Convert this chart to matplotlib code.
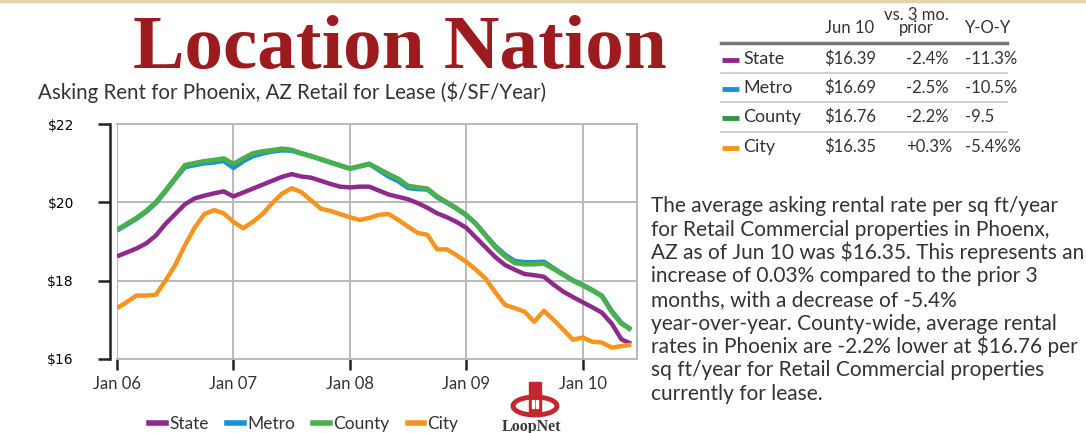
import matplotlib
matplotlib.use("Agg")
import matplotlib.pyplot as plt
from matplotlib.lines import Line2D
from matplotlib.patches import Ellipse, Rectangle
import numpy as np

# ── data: monthly asking rent, Jan 06 .. Jun 10 ─────────────────────────────
months = np.arange(54)  # 0 = Jan 06

state = [18.62, 18.72, 18.82, 18.95, 19.15, 19.45, 19.70, 19.95, 20.10, 20.17,
         20.23, 20.28, 20.15, 20.25, 20.35, 20.45, 20.55, 20.65, 20.72, 20.66,
         20.63, 20.55, 20.47, 20.40, 20.38, 20.40, 20.40, 20.30, 20.20, 20.14,
         20.08, 19.98, 19.86, 19.72, 19.62, 19.50, 19.35, 19.10, 18.85, 18.60,
         18.40, 18.28, 18.17, 18.14, 18.10, 17.90, 17.72, 17.58, 17.45, 17.32,
         17.18, 16.90, 16.50, 16.39]

metro = [19.28, 19.43, 19.58, 19.76, 19.98, 20.28, 20.60, 20.90, 20.95, 21.00,
         21.02, 21.06, 20.88, 21.05, 21.18, 21.25, 21.30, 21.33, 21.32, 21.25,
         21.18, 21.10, 21.02, 20.94, 20.86, 20.92, 20.98, 20.82, 20.66, 20.54,
         20.37, 20.34, 20.33, 20.13, 19.99, 19.84, 19.67, 19.45, 19.16, 18.88,
         18.66, 18.50, 18.47, 18.47, 18.48, 18.32, 18.16, 18.01, 17.89, 17.76,
         17.61, 17.22, 16.92, 16.74]

county = [19.30, 19.45, 19.60, 19.78, 20.00, 20.30, 20.62, 20.95, 21.00, 21.05,
          21.08, 21.12, 20.98, 21.12, 21.25, 21.30, 21.33, 21.37, 21.34, 21.25,
          21.18, 21.10, 21.02, 20.94, 20.86, 20.92, 20.98, 20.85, 20.72, 20.60,
          20.42, 20.38, 20.35, 20.15, 20.00, 19.85, 19.68, 19.45, 19.15, 18.85,
          18.62, 18.45, 18.42, 18.42, 18.44, 18.30, 18.15, 18.00, 17.88, 17.75,
          17.60, 17.20, 16.90, 16.76]

city = [17.30, 17.45, 17.62, 17.62, 17.64, 18.00, 18.40, 18.90, 19.35, 19.70,
        19.80, 19.72, 19.50, 19.34, 19.50, 19.70, 19.98, 20.22, 20.36, 20.26,
        20.05, 19.84, 19.78, 19.70, 19.62, 19.55, 19.60, 19.68, 19.70, 19.55,
        19.38, 19.22, 19.17, 18.80, 18.80, 18.65, 18.48, 18.28, 18.05, 17.70,
        17.38, 17.30, 17.21, 16.95, 17.23, 17.00, 16.75, 16.49, 16.55, 16.44,
        16.42, 16.29, 16.33, 16.37]

series_names = ["State", "Metro", "County", "City"]
series_colors = ["#8e2a8e", "#1b8fd8", "#4cb04a", "#f7941e"]
swatch_colors = ["#8e2a8e", "#1b8fd8", "#2e9640", "#f7941e"]

x_ticks = [0, 12, 24, 36, 48]
x_labels = ["Jan 06", "Jan 07", "Jan 08", "Jan 09", "Jan 10"]
y_ticks = [16, 18, 20, 22]
y_labels = ["$16", "$18", "$20", "$22"]

# summary table
tbl_header = ["Jun 10", "vs. 3 mo.\nprior", "Y-O-Y"]
tbl_current = ["$16.39", "$16.69", "$16.76", "$16.35"]
tbl_3mo = ["-2.4%", "-2.5%", "-2.2%", "+0.3%"]
tbl_yoy = ["-11.3%", "-10.5%", "-9.5", "-5.4%%"]

paragraph = [
    "The average asking rental rate per sq ft/year",
    "for Retail Commercial properties in Phoenx,",
    "AZ as of Jun 10 was $16.35. This represents an",
    "increase of 0.03% compared to the prior 3",
    "months, with a decrease of -5.4%",
    "year-over-year. County-wide, average rental",
    "rates in Phoenix are -2.2% lower at $16.76 per",
    "sq ft/year for Retail Commercial properties",
    "currently for lease.",
]

FONT = "Lato"
TXT = "#333333"
W, H = 1086, 433


def fx(px):
    return px / W


def fy(py):
    return 1 - py / H


fig = plt.figure(figsize=(W / 100, H / 100), dpi=100)
fig.patch.set_facecolor("white")

# thin beige rule along the top
fig.add_artist(Line2D([0, 1], [fy(1), fy(1)], color="#e3d3aa", lw=2.5))

fig.text(fx(400), fy(68), "Location Nation", fontsize=55.5, color="#9b1b1f",
         family="Liberation Serif", fontweight="bold", ha="center", va="baseline")
fig.text(fx(38), fy(99), "Asking Rent for Phoenix, AZ Retail for Lease ($/SF/Year)",
         fontsize=14.8, color=TXT, family=FONT, ha="left", va="baseline")

# ── chart ───────────────────────────────────────────────────────────────────
ax = fig.add_axes([fx(117), fy(359), fx(637) - fx(117), fy(124) - fy(359)])
ax.plot(months, metro, color=series_colors[1], lw=3.4, solid_capstyle="butt", zorder=3)
ax.plot(months, county, color=series_colors[2], lw=3.4, solid_capstyle="butt", zorder=4)
ax.plot(months, state, color=series_colors[0], lw=3.2, solid_capstyle="butt", zorder=3)
ax.plot(months, city, color=series_colors[3], lw=3.2, solid_capstyle="butt", zorder=3)

ax.set_xlim(0, 53.6)
ax.set_ylim(16, 22)
ax.set_xticks(x_ticks)
ax.set_xticklabels(x_labels, family=FONT, fontsize=12, color=TXT)
ax.set_yticks(y_ticks)
ax.set_yticklabels(y_labels, family=FONT, fontsize=11.5, color=TXT, va="bottom")
ax.grid(True, color="#b9b9b9", lw=1.4)
ax.set_axisbelow(True)
for s in ["top", "right", "bottom"]:
    ax.spines[s].set_color("#b9b9b9")
    ax.spines[s].set_linewidth(1.4)
ax.spines["left"].set_position(("outward", 5))
ax.spines["left"].set_color("#222222")
ax.spines["left"].set_linewidth(1.8)
ax.tick_params(axis="y", length=9, width=1.8, color="#222222", pad=17)
ax.tick_params(axis="x", length=8, width=1.8, color="#222222", pad=4)

# legend under the chart
handles = [Line2D([], [], color=c, lw=4) for c in series_colors]
fig.legend(handles, series_names, loc="center", bbox_to_anchor=(fx(304), fy(424)),
           ncol=4, frameon=False, handlelength=0.95, handletextpad=0.2,
           columnspacing=1.05, prop={"family": FONT, "size": 12.5},
           labelcolor=TXT)

# LoopNet mark: red ring with a small tower, word below
lax = fig.add_axes([fx(505), fy(420), fx(60), 40 / H])
lax.set_xlim(0, 60)
lax.set_ylim(0, 40)
lax.axis("off")
lax.add_patch(Rectangle((24, 8), 12, 30, color="#c4262e"))
lax.add_patch(Rectangle((27, 12), 2, 8, color="white"))
lax.add_patch(Rectangle((31, 12), 2, 8, color="white"))
lax.add_patch(Ellipse((30, 14), 44, 18, fill=False, ec="#c4262e", lw=3.5))
fig.text(fx(531), fy(431), "LoopNet", fontsize=11.5, family="Liberation Serif",
         fontweight="bold", color="#3a3a3a", ha="center", va="baseline")

# ── summary table ───────────────────────────────────────────────────────────
fig.text(fx(825), fy(33), tbl_header[0], fontsize=12, family=FONT, color=TXT,
         ha="left", va="baseline")
fig.text(fx(916), fy(33), tbl_header[1], fontsize=12, family=FONT, color=TXT,
         ha="center", va="baseline", linespacing=0.8)
fig.text(fx(965), fy(33), tbl_header[2], fontsize=12, family=FONT, color=TXT,
         ha="left", va="baseline")
fig.add_artist(Line2D([fx(721), fx(1007)], [fy(43), fy(43)], color="#777777", lw=2.5))

row_base = [64, 93, 122, 152]
for i, name in enumerate(series_names):
    yb = row_base[i]
    fig.add_artist(Line2D([fx(722), fx(739)], [fy(yb - 4.5), fy(yb - 4.5)],
                          color=swatch_colors[i], lw=3.5, solid_capstyle="butt"))
    fig.text(fx(743), fy(yb), name, fontsize=13, family=FONT, color=TXT,
             ha="left", va="baseline")
    fig.text(fx(824), fy(yb), tbl_current[i], fontsize=12, family=FONT, color=TXT,
             ha="left", va="baseline")
    fig.text(fx(906), fy(yb), tbl_3mo[i], fontsize=12, family=FONT, color=TXT,
             ha="left", va="baseline")
    fig.text(fx(965), fy(yb), tbl_yoy[i], fontsize=12, family=FONT, color=TXT,
             ha="left", va="baseline")
    if i < 3:
        ysep = (row_base[i] + row_base[i + 1]) / 2 - 5.5
        fig.add_artist(Line2D([fx(721), fx(1007)], [fy(ysep), fy(ysep)],
                              color="#c8c8c8", lw=1.2))

# ── commentary ──────────────────────────────────────────────────────────────
for i, line in enumerate(paragraph):
    fig.text(fx(651), fy(212 + 23.5 * i), line, fontsize=15, family=FONT,
             color=TXT, ha="left", va="baseline")

fig.savefig("out.png", dpi=100)
